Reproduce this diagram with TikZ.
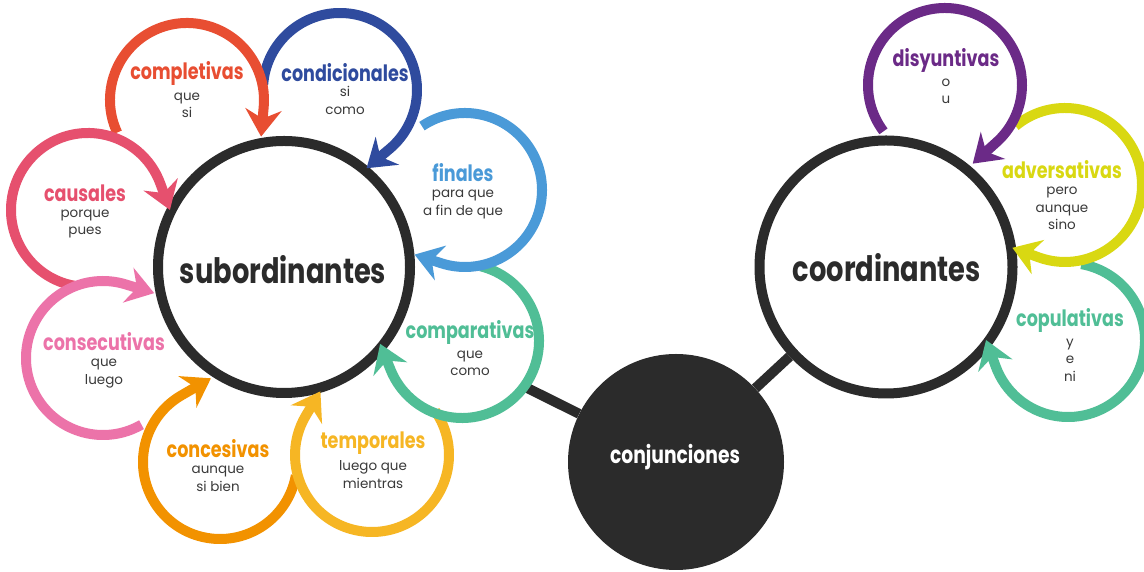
\documentclass[tikz,border=0pt]{standalone}
\usepackage{fontspec}
\setmainfont{Poppins}
\newfontfamily\tfont[FakeStretch=0.78]{Poppins}
\usetikzlibrary{arrows.meta}
\pgfdeclarelayer{back}
\pgfsetlayers{back,main}
\definecolor{dark}{HTML}{2B2B2B}
\definecolor{txt}{HTML}{3A3A3A}
\definecolor{cRed}{HTML}{E84E32}
\definecolor{cBlue}{HTML}{2F4B9E}
\definecolor{cLBlue}{HTML}{4A9AD8}
\definecolor{cTeal}{HTML}{50BE96}
\definecolor{cYel}{HTML}{F6B624}
\definecolor{cOra}{HTML}{F29200}
\definecolor{cPink}{HTML}{EC73A9}
\definecolor{cCrim}{HTML}{E6506E}
\definecolor{cPurp}{HTML}{6B2A87}
\definecolor{cLime}{HTML}{D9D812}
\tikzset{
  ring/.style={draw=#1, line width=10pt, line join=round,
    -{Stealth[length=27pt,width=36pt,inset=9pt]}},
  bigcirc/.style={circle, draw=dark, fill=white, line width=10pt, inner sep=0pt},
  conn/.style={draw=dark, line width=10pt},
  ttl/.style={text=#1, font=\tfont\bfseries\fontsize{22.5}{25}\selectfont, inner sep=0pt},
  body/.style={text=txt, font=\fontsize{13.5}{17.5}\selectfont, align=center, inner sep=0pt},
  big/.style={text=dark, font=\tfont\bfseries\fontsize{35}{40}\selectfont, inner sep=0pt}
}
\begin{document}
\begin{tikzpicture}[x=1pt,y=1pt]
\useasboundingbox (0,0) rectangle (1144,572);
\clip (0,0) rectangle (1144,572);
% main nodes
\node[bigcirc, minimum size=252pt] (sub) at (284,305) {};
\node[bigcirc, minimum size=253pt] (coord) at (886,305) {};
\node[circle, fill=dark, minimum size=216pt, inner sep=0pt] (conj) at (676,110) {};
% ring centres
\coordinate (pCompl) at (187,472);
\coordinate (pCond) at (340,482);
\coordinate (pFin) at (465,382);
\coordinate (pComp) at (462,231);
\coordinate (pTemp) at (372,117);
\coordinate (pConc) at (220,110);
\coordinate (pConsec) at (103,214);
\coordinate (pCaus) at (88,362);
\coordinate (pDisy) at (945,487);
\coordinate (pAdv) at (1065,387);
\coordinate (pCopul) at (1068,232);
\begin{pgfonlayer}{back}
\fill[white] (0,0) rectangle (1144,572);
\draw[conn] (sub) -- (conj);
\draw[conn] (coord) -- (conj);
\fill[white] (pComp) circle[radius=76];
\end{pgfonlayer}
\node[text=white, font=\tfont\bfseries\fontsize{24}{28}\selectfont, inner sep=0pt] (conjT) at (675,115) {conjunciones};
\node[big] (subT) at (283,302) {subordinantes};
\node[big] (coordT) at (887,304) {coordinantes};
% rings (drawing order gives the overlaps)
\draw[ring=cBlue] (pCond) ++(176:77) arc[start angle=176, end angle=-50, radius=77] -- ++(-140:30);
\draw[ring=cRed] (pCompl) ++(205:77) arc[start angle=205, end angle=-5, radius=77] -- ++(-95:30);
\draw[ring=cCrim] (pCaus) ++(-100:77) arc[start angle=-100, end angle=-340, radius=77] -- ++(-70:28);
\draw[ring=cPink] (pConsec) ++(-60:77) arc[start angle=-60, end angle=-287, radius=77] -- ++(-377:30);
\draw[ring=cOra] (pConc) ++(-10:77) arc[start angle=-10, end angle=-240, radius=77] -- ++(-330:34);
\draw[ring=cYel] (pTemp) ++(35:77) arc[start angle=35, end angle=-211, radius=77] -- ++(-301:28);
\draw[ring=cTeal] (pComp) ++(76:77) arc[start angle=76, end angle=-158, radius=77] -- ++(-248:28);
\draw[ring=cLBlue] (pFin) ++(124:77) arc[start angle=124, end angle=-108, radius=77] -- ++(-198:28);
\draw[ring=cTeal] (pCopul) ++(80:77) arc[start angle=80, end angle=-160, radius=77] -- ++(-250:28);
\draw[ring=cLime] (pAdv) ++(130:77) arc[start angle=130, end angle=-110, radius=77] -- ++(-200:28);
\draw[ring=cPurp] (pDisy) ++(217:77) arc[start angle=217, end angle=-48, radius=77] -- ++(-138:32);
% labels
\node[ttl=cRed] (tCompl) at (187,499) {completivas};
\node[body] (bCompl) at (187,466.5) {que\\si};
\node[ttl=cBlue] (tCond) at (345,499) {condicionales};
\node[body] (bCond) at (345,471.5) {si\\como};
\node[ttl=cLBlue] (tFin) at (463,399) {finales};
\node[body] (bFin) at (463,367.5) {para que\\a fin de que};
\node[ttl=cTeal] (tComp) at (470,240) {comparativas};
\node[body] (bComp) at (470,208.5) {que\\como};
\node[ttl=cYel] (tTemp) at (373,129) {temporales};
\node[body] (bTemp) at (373,97.5) {luego que\\mientras};
\node[ttl=cOra] (tConc) at (218,123) {concesivas};
\node[body] (bConc) at (218,93) {aunque\\si bien};
\node[ttl=cPink] (tConsec) at (104,230) {consecutivas};
\node[body] (bConsec) at (104,198.5) {que\\luego};
\node[ttl=cCrim] (tCaus) at (85,379) {causales};
\node[body] (bCaus) at (85,348) {porque\\pues};
\node[ttl=cPurp] (tDisy) at (946,512) {disyuntivas};
\node[body] (bDisy) at (946,480.5) {o\\u};
\node[ttl=cLime] (tAdv) at (1062,402) {adversativas};
\node[body] (bAdv) at (1062,363.5) {pero\\aunque\\sino};
\node[ttl=cTeal] (tCopul) at (1070,252) {copulativas};
\node[body] (bCopul) at (1070,212) {y\\e\\ni};
\end{tikzpicture}
\end{document}
